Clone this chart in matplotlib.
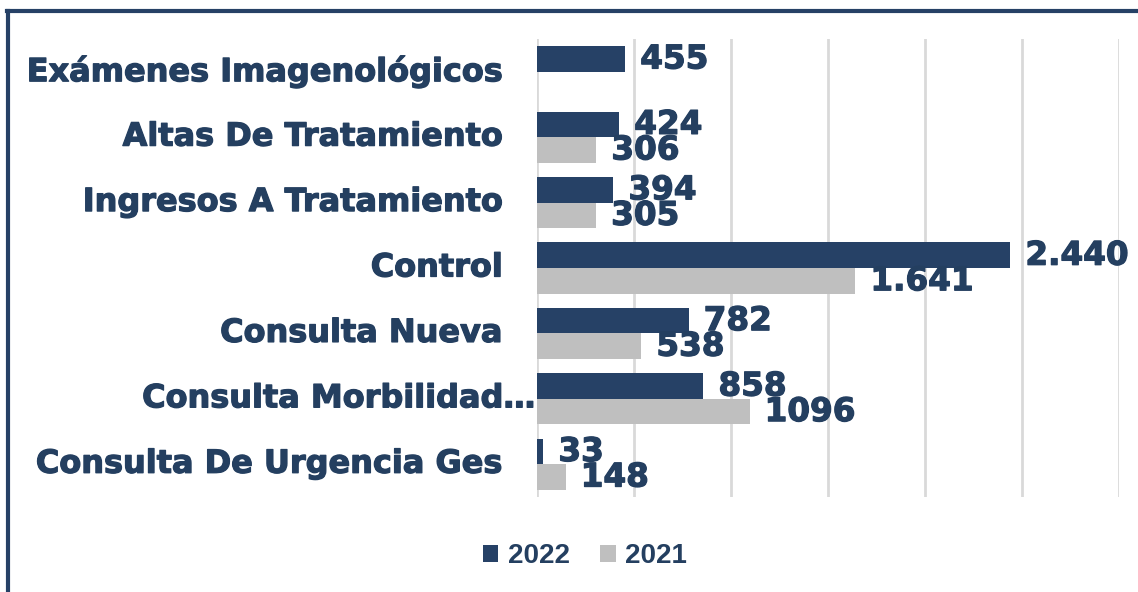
import matplotlib
matplotlib.use("Agg")
import matplotlib.pyplot as plt
import matplotlib.transforms as mtransforms
import matplotlib.patheffects as pe
from matplotlib.patches import Patch
from matplotlib.lines import Line2D
import numpy as np

categories = ["Exámenes Imagenológicos", "Altas De Tratamiento", "Ingresos A Tratamiento",
              "Control", "Consulta Nueva", "Consulta Morbilidad…", "Consulta De Urgencia Ges"]
values_2022 = [455, 424, 394, 2440, 782, 858, 33]
values_2021 = [None, 306, 305, 1641, 538, 1096, 148]
labels_2022 = ["455", "424", "394", "2.440", "782", "858", "33"]
labels_2021 = ["", "306", "305", "1.641", "538", "1096", "148"]
series_names = ["2022", "2021"]
xticks = [0, 500, 1000, 1500, 2000, 2500, 3000]

NAVY = "#264166"
GRAY = "#BFBFBF"
TEXT = "#243F60"
GRID = "#D9D9D9"

fig = plt.figure(figsize=(11.38, 5.92), dpi=100)
W, H = 1138, 592
ax = fig.add_axes([537 / W, 1 - 497 / H, (1119 - 537) / W, (497 - 39) / H])

y = np.arange(len(categories))
bh = 0.39
v22 = [np.nan if v is None else v for v in values_2022]
v21 = [np.nan if v is None else v for v in values_2021]
ax.barh(y - bh / 2, v22, height=bh, color=NAVY, zorder=3)
ax.barh(y + bh / 2, v21, height=bh, color=GRAY, zorder=3)

ax.set_xlim(0, 3000)
ax.set_ylim(len(categories) - 0.5, -0.5)
ax.set_xticks(xticks)
ax.xaxis.grid(True, color=GRID, linewidth=2, zorder=0)
ax.tick_params(axis="both", length=0, labelbottom=False, labelleft=False)
for s in ax.spines.values():
    s.set_visible(False)

heavy = [pe.withStroke(linewidth=0.9, foreground=TEXT)]
vfont = dict(family="DejaVu Sans", weight="bold", size=23.5, color=TEXT, path_effects=heavy)
cfont = dict(family="DejaVu Sans", weight="bold", size=23, color=TEXT, path_effects=heavy)
off = mtransforms.offset_copy(ax.transData, fig=fig, x=15, y=0, units="dots")
for i in range(len(categories)):
    if values_2022[i] is not None:
        ax.text(values_2022[i], y[i] - bh / 2, labels_2022[i], transform=off,
                ha="left", va="center", zorder=4, **vfont)
    if values_2021[i] is not None:
        ax.text(values_2021[i], y[i] + bh / 2, labels_2021[i], transform=off,
                ha="left", va="center", zorder=4, **vfont)

blend = mtransforms.blended_transform_factory(ax.transAxes, ax.transData)
for i, c in enumerate(categories):
    dx = -1 if c.endswith("…") else -34
    t = mtransforms.offset_copy(blend, fig=fig, x=dx, y=0, units="dots")
    ax.text(0, y[i], c, transform=t, ha="right", va="center", **cfont)

handles = [Patch(facecolor=NAVY, edgecolor="none"), Patch(facecolor=GRAY, edgecolor="none")]
fig.legend(handles, series_names, loc="center", bbox_to_anchor=(585 / W, 1 - 556 / H),
           ncol=2, frameon=False, handlelength=0.55, handleheight=0.55,
           handletextpad=0.35, columnspacing=1.1,
           prop=dict(family="Liberation Sans", weight="bold", size=20),
           labelcolor=TEXT)

fig.add_artist(Line2D([8 / W, 8 / W], [0, 1 - 11 / H], transform=fig.transFigure,
                      color=NAVY, linewidth=3))
fig.add_artist(Line2D([6.5 / W, 1], [1 - 11 / H, 1 - 11 / H], transform=fig.transFigure,
                      color=NAVY, linewidth=3))

fig.savefig("out.png", dpi=100, facecolor="white")
